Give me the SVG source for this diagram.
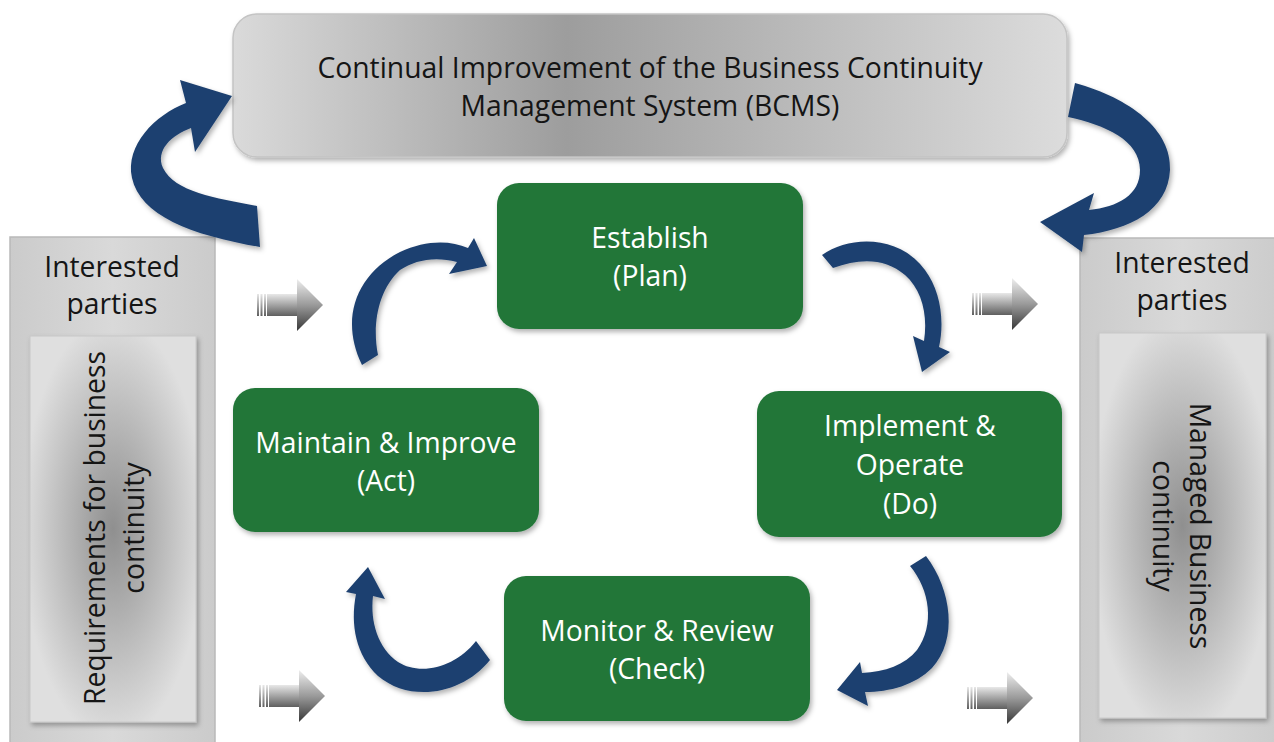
<svg xmlns="http://www.w3.org/2000/svg" width="1274" height="742" viewBox="0 0 1274 742">
<style>
.t{font-family:"Open Sans","Liberation Sans",sans-serif;font-size:28.3px;text-anchor:middle}
.w{fill:#ffffff}
.k{fill:#151515}
.green{fill:#237639}
.blue{fill:#1e406f}
</style>
<defs>
<linearGradient id="gTop" x1="0" y1="0" x2="1" y2="0">
<stop offset="0" stop-color="#dadada"/><stop offset="0.4" stop-color="#9d9d9d"/><stop offset="1" stop-color="#dcdcdc"/>
</linearGradient>
<linearGradient id="gSide" x1="0" y1="0" x2="1" y2="0">
<stop offset="0" stop-color="#cbcbcb"/><stop offset="0.5" stop-color="#d9d9d9"/><stop offset="1" stop-color="#cbcbcb"/>
</linearGradient>
<radialGradient id="gInner" cx="0.5" cy="0.5" r="0.55">
<stop offset="0" stop-color="#8f8f8f"/><stop offset="1" stop-color="#dfdfdf"/>
</radialGradient>
<linearGradient id="gHead" x1="0" y1="0" x2="0" y2="1">
<stop offset="0" stop-color="#eeeeee"/><stop offset="0.5" stop-color="#9a9a9a"/><stop offset="1" stop-color="#383838"/>
</linearGradient>
<linearGradient id="gShaft" x1="0" y1="0" x2="0" y2="1">
<stop offset="0" stop-color="#e8e8e8"/><stop offset="1" stop-color="#5f5f5f"/>
</linearGradient>
<filter id="sh" x="-10%" y="-10%" width="130%" height="130%">
<feDropShadow dx="2" dy="3" stdDeviation="2.5" flood-color="#000" flood-opacity="0.3"/>
</filter>
<g id="garrow">
<rect x="0" y="15" width="2" height="22" fill="url(#gShaft)"/>
<rect x="3.5" y="15" width="2" height="22" fill="url(#gShaft)"/>
<rect x="7" y="15" width="2" height="22" fill="url(#gShaft)"/>
<rect x="10" y="15" width="31" height="22" fill="url(#gShaft)"/>
<polygon points="40,0 66,26 40,52" fill="url(#gHead)"/>
</g>
</defs>
<rect width="1274" height="742" fill="#ffffff"/>

<g id="node-bcms">
<rect x="233" y="14" width="834" height="143" rx="24" fill="url(#gTop)" stroke="#c4c4c4" stroke-width="1.5" filter="url(#sh)"/>
<text class="t k" x="650" y="78">Continual Improvement of the Business Continuity</text>
<text class="t k" x="650" y="116">Management System (BCMS)</text>
</g>

<g id="node-left">
<rect x="10" y="237" width="205" height="520" fill="url(#gSide)" stroke="#b9b9b9" stroke-width="1.5"/>
<text class="t k" x="112" y="277">Interested</text>
<text class="t k" x="112" y="314">parties</text>
<rect x="30" y="336" width="166" height="386" fill="url(#gInner)" stroke="#c8c8c8" filter="url(#sh)"/>
<text class="t k" transform="translate(112,528) rotate(-90)"><tspan x="0" y="-7">Requirements for business</tspan><tspan x="0" y="32">continuity</tspan></text>
</g>

<g id="node-right">
<rect x="1080" y="238" width="205" height="520" fill="url(#gSide)" stroke="#b9b9b9" stroke-width="1.5"/>
<text class="t k" x="1182" y="273">Interested</text>
<text class="t k" x="1182" y="310">parties</text>
<rect x="1099" y="333" width="167" height="385" fill="url(#gInner)" stroke="#c8c8c8" filter="url(#sh)"/>
<text class="t k" transform="translate(1174,526) rotate(90)"><tspan x="0" y="-16">Managed Business</tspan><tspan x="0" y="21">continuity</tspan></text>
</g>

<g id="node-plan">
<rect class="green" x="497" y="183" width="306" height="146" rx="22" filter="url(#sh)"/>
<text class="t w" x="650" y="248">Establish</text>
<text class="t w" x="650" y="286">(Plan)</text>
</g>

<g id="node-act">
<rect class="green" x="233" y="388" width="306" height="144" rx="22" filter="url(#sh)"/>
<text class="t w" x="386" y="453">Maintain &amp; Improve</text>
<text class="t w" x="386" y="491">(Act)</text>
</g>

<g id="node-do">
<rect class="green" x="757" y="391" width="305" height="146" rx="22" filter="url(#sh)"/>
<text class="t w" x="910" y="436">Implement &amp;</text>
<text class="t w" x="910" y="475">Operate</text>
<text class="t w" x="910" y="514">(Do)</text>
</g>

<g id="node-check">
<rect class="green" x="504" y="576" width="306" height="145" rx="22" filter="url(#sh)"/>
<text class="t w" x="657" y="641">Monitor &amp; Review</text>
<text class="t w" x="657" y="679">(Check)</text>
</g>

<g id="connectors">
<g class="blue" filter="url(#sh)">
<path d="M257,206 C215,198 175,192 163,168 C155,150 172,135 191,128 L195,152 L232,96 L180,80 L186,103 C155,115 125,145 132,178 C140,215 190,235 260,247 Z"/>
<path d="M1075,83 C1130,98 1172,130 1170,170 C1168,210 1130,230 1084,235 L1082,252 L1040,222 L1094,193 L1089,210 C1118,207 1140,195 1140,170 C1140,140 1105,125 1068,117 Z"/>
<path d="M362,365 C340,320 355,275 400,252 C425,240 450,240 468,248 L474,238 L487,266 L449,274 L457,262 C435,256 415,260 400,270 C378,290 372,325 378,355 Z"/>
<path d="M822,255 C850,235 900,235 925,270 C940,290 945,320 939,347 L950,352 L922,372 L913,336 L924,341 C928,315 922,290 905,275 C885,258 860,258 833,268 Z"/>
<path d="M926,556 C952,590 958,640 932,668 C915,685 890,692 865,692 L868,706 L837,690 L860,662 L862,673 C885,672 905,665 917,650 C935,625 930,590 910,566 Z"/>
<path d="M490,660 C462,695 410,703 378,676 C356,655 350,625 356,594 L346,592 L368,567 L385,599 L373,596 C370,622 378,648 398,662 C420,676 455,668 476,641 Z"/>
</g>
<use href="#garrow" transform="translate(257,279)"/>
<use href="#garrow" transform="translate(259,670)"/>
<use href="#garrow" transform="translate(972,278)"/>
<use href="#garrow" transform="translate(967,672)"/>
</g>
</svg>
